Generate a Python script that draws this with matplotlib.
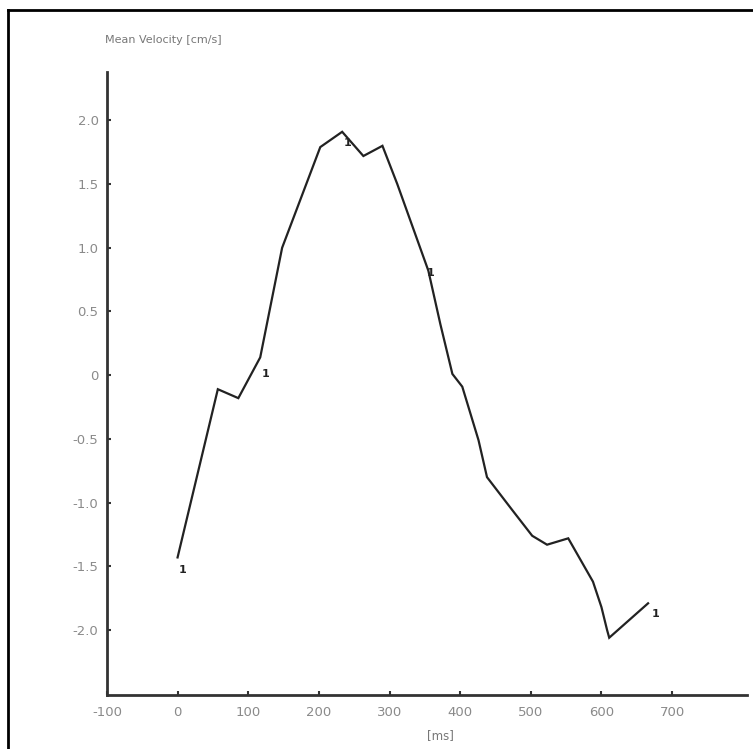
"""Mean velocity trace over one cycle, redrawn from a scanned figure."""
import matplotlib
matplotlib.use("Agg")
import matplotlib.pyplot as plt
from matplotlib.lines import Line2D

INK = "#222222"
LABEL = "#8a8a8a"

time_ms = [0, 57, 86, 117, 148, 202, 233, 263, 290, 311, 355, 372, 389, 403,
           426, 438, 474, 502, 523, 553, 588, 600, 608, 611, 666]
velocity = [-1.43, -0.11, -0.18, 0.14, 1.00, 1.79, 1.91, 1.72, 1.80, 1.50,
            0.82, 0.40, 0.01, -0.09, -0.51, -0.80, -1.06, -1.26, -1.33, -1.28,
            -1.62, -1.82, -2.00, -2.06, -1.79]

# little "1" marks scattered along the trace
mark_x = [7, 124, 358, 240, 676]
mark_y = [-1.53, 0.01, 0.80, 1.82, -1.87]

x_ticks = [-100, 0, 100, 200, 300, 400, 500, 600, 700]
y_ticks = [-2.0, -1.5, -1.0, -0.5, 0, 0.5, 1.0, 1.5, 2.0]
y_tick_labels = ["-2.0", "-1.5", "-1.0", "-0.5", "0", "0.5", "1.0", "1.5", "2.0"]


def main():
    plt.rcParams["axes.unicode_minus"] = False
    fig = plt.figure(figsize=(7.53, 7.49), dpi=100, facecolor="white")
    ax = fig.add_axes([0.142, 0.072, 0.85, 0.832])

    ax.plot(time_ms, velocity, color=INK, linewidth=1.6, solid_joinstyle="miter")
    for mx, my in zip(mark_x, mark_y):
        ax.text(mx, my, "1", fontsize=8, color=INK, ha="center", va="center",
                fontweight="bold")

    ax.set_xlim(-100, 806)
    ax.set_ylim(-2.51, 2.38)
    ax.set_xticks(x_ticks)
    ax.set_yticks(y_ticks)
    ax.set_yticklabels(y_tick_labels)

    for side in ("top", "right"):
        ax.spines[side].set_visible(False)
    for side in ("left", "bottom"):
        ax.spines[side].set_color("#333333")
        ax.spines[side].set_linewidth(2)
    ax.tick_params(direction="in", length=3, width=1.5, color="#333333",
                   labelcolor=LABEL, labelsize=9.5)
    ax.tick_params(axis="x", pad=8)
    ax.tick_params(axis="y", pad=6)

    fig.text(0.14, 0.947, "Mean Velocity [cm/s]", fontsize=8, color="#777777",
             ha="left", va="center")
    fig.text(0.585, 0.018, "[ms]", fontsize=8.5, color="#777777",
             ha="center", va="center")

    # scanned page frame: left and top edge only
    fig.add_artist(Line2D([0.011, 0.011], [0.0, 0.987], color="black",
                          linewidth=2, transform=fig.transFigure))
    fig.add_artist(Line2D([0.011, 1.0], [0.987, 0.987], color="black",
                          linewidth=2, transform=fig.transFigure))

    fig.savefig("out.png", dpi=100, facecolor="white")
    plt.close(fig)


if __name__ == "__main__":
    main()
